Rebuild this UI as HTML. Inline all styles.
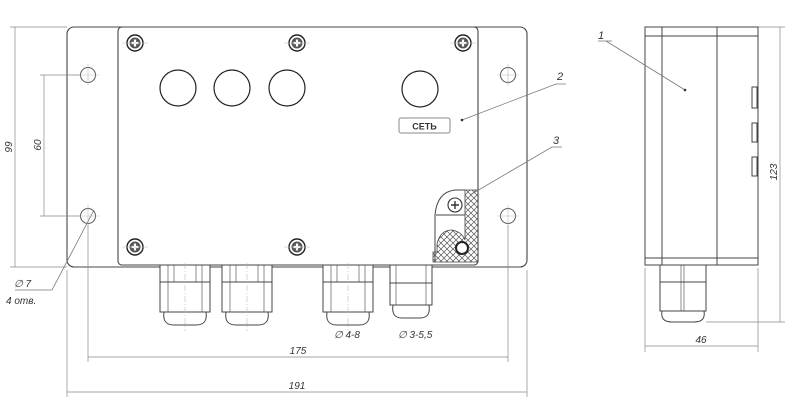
<!DOCTYPE html>
<html><head><meta charset="utf-8"><style>
html,body{margin:0;padding:0;background:#fff;width:800px;height:410px;overflow:hidden}
svg{display:block}
text{font-family:"Liberation Sans",sans-serif;font-style:italic;fill:#333}
</style></head><body>
<svg width="800" height="410" viewBox="0 0 800 410" xmlns="http://www.w3.org/2000/svg">
<defs>
<pattern id="hatch" width="6" height="6" patternUnits="userSpaceOnUse">
<path d="M0,0L6,6M6,0L0,6" stroke="#555" stroke-width="0.7"/>
</pattern>
<g id="screw">
<circle r="8" fill="#fff" stroke="#222" stroke-width="1.4"/>
<circle r="5.5" fill="#555"/>
<path d="M-3.5,0H3.5M0,-3.5V3.5" stroke="#fff" stroke-width="2.2"/>
</g>
<g id="hole">
<circle r="7.5" fill="#fff" stroke="#555" stroke-width="1"/>
<path d="M-11,0H11M0,-11V11" stroke="#bbb" stroke-width="0.6"/>
</g>
<g id="gland" fill="#fff" stroke="#444" stroke-width="1">
<rect x="0" y="0" width="50" height="17"/>
<rect x="0" y="17" width="50" height="30"/>
<path d="M4,47 H46 Q48,60 36,60 H14 Q2,60 4,47 Z"/>
<path d="M8,0V47M42,0V47M14,0V17M36,0V17" stroke-width="0.6"/>
<path d="M25,-2V66" stroke="#aaa" stroke-width="0.5" stroke-dasharray="6,2,1,2"/>
</g>
</defs>

<g fill="none" stroke="#444" stroke-width="1.1">
<rect x="67" y="27" width="460" height="240" rx="7" fill="#fff"/>
<rect x="118" y="27" width="360" height="238" rx="4" fill="#fff"/>
</g>

<use href="#hole" x="88" y="75"/><use href="#hole" x="508" y="75"/>
<use href="#hole" x="88" y="216"/><use href="#hole" x="508" y="216"/>

<use href="#screw" x="135" y="43"/><use href="#screw" x="297" y="43"/><use href="#screw" x="463" y="43"/>
<use href="#screw" x="135" y="247"/><use href="#screw" x="297" y="247"/>
<g stroke="#bbb" stroke-width="0.6">
<path d="M122,43H148M284,43H310M450,43H476M122,247H148M284,247H310"/>
</g>

<g fill="#fff" stroke="#222" stroke-width="1.2">
<circle cx="178" cy="88" r="18"/><circle cx="232" cy="88" r="18"/><circle cx="287" cy="88" r="18"/>
<circle cx="420" cy="89" r="18"/>
</g>
<rect x="399" y="118" width="51" height="15" rx="2" fill="#fff" stroke="#888" stroke-width="1"/>
<text x="424.5" y="129.5" font-size="9" font-weight="bold" text-anchor="middle" style="font-style:normal" fill="#222">СЕТЬ</text>

<path d="M478,190 H465 V240 Q462,232 452,230 Q440,230 437,244 V252 H433 V262 H478 Z" fill="url(#hatch)" stroke="#444" stroke-width="0.8"/>
<path d="M465,190 H455 Q437,192 435,215 V262 M436,215 H465" fill="none" stroke="#444" stroke-width="1"/>
<circle cx="455" cy="205" r="7" fill="#fff" stroke="#333" stroke-width="1.1"/>
<path d="M451,205H459M455,201V209" stroke="#333" stroke-width="1.4"/>
<circle cx="462" cy="248" r="6" fill="#fff" stroke="#222" stroke-width="2"/>

<use href="#gland" x="160" y="265"/>
<use href="#gland" x="222" y="265"/>
<use href="#gland" x="323" y="265"/>
<g fill="#fff" stroke="#444" stroke-width="1">
<rect x="390" y="265" width="42" height="18"/>
<rect x="390" y="283" width="42" height="22"/>
<path d="M393,305 H429 Q431,318 420,318 H402 Q391,318 393,305 Z"/>
<path d="M396,265V305M426,265V305" stroke-width="0.6"/>
</g>

<g stroke="#888" stroke-width="0.7" fill="none">
<path d="M15,27 V267 M10,27 H67 M10,267 H67"/>
<path d="M44,75 V216 M40,75 H80 M40,216 H80"/>
<path d="M88,225 V362 M508,225 V362 M88,357 H508"/>
<path d="M67,270 V397 M527,270 V397 M67,392 H527"/>
<path d="M780,27 V322 M758,27 H785 M706,322 H785"/>
<path d="M645,268 V352 M758,268 V352 M645,346 H758"/>
</g>
<text transform="translate(12,147) rotate(-90)" font-size="10" text-anchor="middle">99</text>
<text transform="translate(41,145) rotate(-90)" font-size="10" text-anchor="middle">60</text>
<text x="298" y="354" font-size="10" text-anchor="middle">175</text>
<text x="297" y="389" font-size="10" text-anchor="middle">191</text>
<text x="334" y="338" font-size="10">∅ 4-8</text>
<text x="398" y="338" font-size="10">∅ 3-5,5</text>
<text transform="translate(777,172) rotate(-90)" font-size="10" text-anchor="middle">123</text>
<text x="701" y="343" font-size="10" text-anchor="middle">46</text>

<g fill="#fff" stroke="#444" stroke-width="1">
<rect x="645" y="27" width="113" height="238"/>
<path d="M662,27V265M717,27V265M645,36H758M645,258H758"/>
<rect x="752" y="87" width="5" height="21"/><rect x="752" y="123" width="5" height="19"/><rect x="752" y="157" width="5" height="19"/>
<rect x="660" y="265" width="46" height="17"/>
<rect x="660" y="282" width="46" height="29"/>
<path d="M662,311 H704 Q706,322 694,322 H672 Q660,322 662,311 Z"/>
<path d="M681,265V311M684,265V311" stroke-width="0.6"/>
</g>

<g stroke="#777" stroke-width="0.8" fill="none">
<path d="M598,41 H612 M606,41 L685,90"/>
<path d="M462,120 L556,84 H566"/>
<path d="M470,195 L552,147 H562"/>
<path d="M94,210 L52,290 H15"/>
</g>
<circle cx="685" cy="90" r="1.3" fill="#333"/><circle cx="462" cy="120" r="1.3" fill="#333"/>
<text x="598" y="39" font-size="11">1</text>
<text x="557" y="80" font-size="11">2</text>
<text x="553" y="144" font-size="11">3</text>
<text x="14" y="287" font-size="10">∅ 7</text>
<text x="6" y="304" font-size="10">4 отв.</text>
</svg>
</body></html>
